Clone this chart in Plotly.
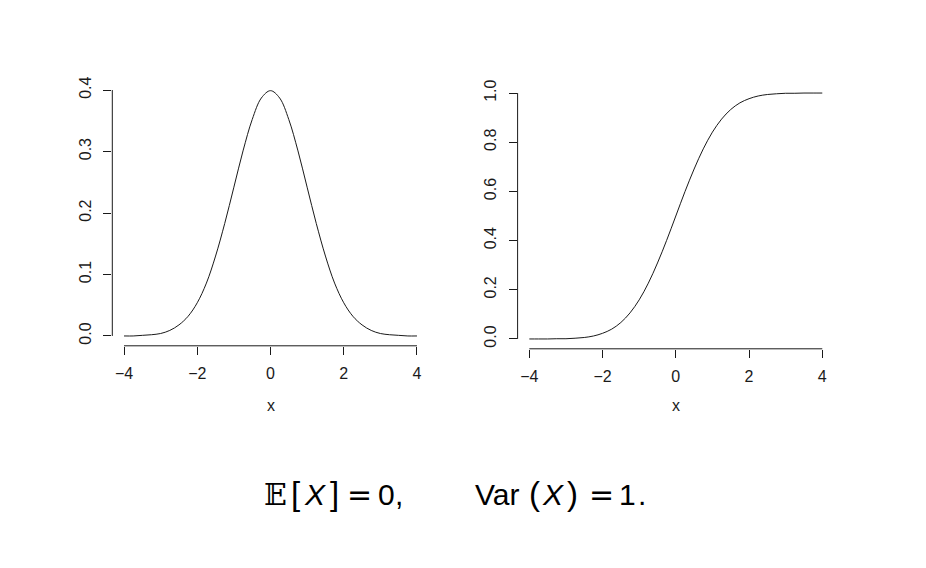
import plotly.graph_objects as go

# ---- data ----
x_vals = [-4, -3.75, -3.5, -3.25, -3, -2.75, -2.5, -2.25, -2, -1.75, -1.5, -1.25, -1,
          -0.75, -0.5, -0.25, 0, 0.25, 0.5, 0.75, 1, 1.25, 1.5, 1.75, 2, 2.25, 2.5,
          2.75, 3, 3.25, 3.5, 3.75, 4]
pdf_vals = [0.000, 0.000, 0.001, 0.002, 0.004, 0.009, 0.018, 0.032, 0.054, 0.086, 0.130,
            0.183, 0.242, 0.301, 0.352, 0.387, 0.399, 0.387, 0.352, 0.301, 0.242, 0.183,
            0.130, 0.086, 0.054, 0.032, 0.018, 0.009, 0.004, 0.002, 0.001, 0.000, 0.000]
cdf_vals = [0.000, 0.000, 0.000, 0.001, 0.001, 0.003, 0.006, 0.012, 0.023, 0.040, 0.067,
            0.106, 0.159, 0.227, 0.309, 0.401, 0.500, 0.599, 0.691, 0.773, 0.841, 0.894,
            0.933, 0.960, 0.977, 0.988, 0.994, 0.997, 0.999, 0.999, 1.000, 1.000, 1.000]
x_ticks = [-4, -2, 0, 2, 4]
pdf_ticks = [0.0, 0.1, 0.2, 0.3, 0.4]
cdf_ticks = [0.0, 0.2, 0.4, 0.6, 0.8, 1.0]
x_title = "x"
# caption tokens: (text, left edge px, kind)
caption_left = [("𝔼", 262, "bb"), ("[", 289, "br"), ("X", 302, "it"), ("]", 328, "br"),
                ("=", 345, "eq"), ("0", 376, "n"), (",", 393, "n")]
caption_right = [("Var", 473, "n"), ("(", 527, "br"), ("X", 540, "it"), (")", 565, "br"),
                 ("=", 587, "eq"), ("1", 617, "n"), (".", 636, "n")]

W, H = 926, 568
FONT = "Liberation Sans, Arial, sans-serif"
INK = "#1a1a1a"
TS = 16

fig = go.Figure()
fig.add_trace(go.Scatter(x=x_vals, y=pdf_vals, mode="lines", line=dict(color=INK, width=1, shape="spline", smoothing=1.0),
                         xaxis="x", yaxis="y", showlegend=False, hoverinfo="skip"))
fig.add_trace(go.Scatter(x=x_vals, y=cdf_vals, mode="lines", line=dict(color=INK, width=1, shape="spline", smoothing=1.0),
                         xaxis="x2", yaxis="y2", showlegend=False, hoverinfo="skip"))

def xa(domain, anchor):
    return dict(domain=domain, anchor=anchor, range=[-4.32, 4.32], tickmode="array",
                tickvals=x_ticks, ticktext=["\u22124", "\u22122", "0", "2", "4"],
                ticks="outside", ticklen=8, tickwidth=1, tickcolor=INK,
                showgrid=False, zeroline=False, showline=False, ticklabelstandoff=5,
                automargin=False, tickfont=dict(family=FONT, size=TS, color=INK))

def ya(domain, anchor, rng, tv):
    return dict(domain=domain, anchor=anchor, range=rng, tickmode="array",
                tickvals=tv, ticktext=[f"{v:.1f}" for v in tv], tickangle=-90,
                ticks="outside", ticklen=8, tickwidth=1, tickcolor=INK,
                showgrid=False, zeroline=False, showline=False, ticklabelstandoff=6,
                automargin=False, tickfont=dict(family=FONT, size=TS, color=INK))

fig.update_layout(
    width=W, height=H, margin=dict(l=0, r=0, t=0, b=0),
    paper_bgcolor="white", plot_bgcolor="white",
    xaxis=xa([112.3 / W, 428.7 / W], "y"),
    yaxis=ya([1 - 345.8 / H, 1 - 80.2 / H], "x", [-0.016, 0.416], pdf_ticks),
    xaxis2=xa([517.6 / W, 834.0 / W], "y2"),
    yaxis2=ya([1 - 348.8 / H, 1 - 83.2 / H], "x2", [-0.04, 1.04], cdf_ticks),
)

# R-style detached axis lines spanning the tick range
for xr, yr, tv in [("x", "y", pdf_ticks), ("x2", "y2", cdf_ticks)]:
    fig.add_shape(type="line", xref=xr, yref=yr + " domain", x0=x_ticks[0], x1=x_ticks[-1], y0=0, y1=0,
                  line=dict(color=INK, width=1))
    fig.add_shape(type="line", xref=xr + " domain", yref=yr, x0=0, x1=0, y0=tv[0], y1=tv[-1],
                  line=dict(color=INK, width=1))

# axis titles
for xr in ["x", "x2"]:
    fig.add_annotation(text=x_title, xref=xr, x=0, yref="paper", y=1 - 405 / H, yanchor="middle",
                       showarrow=False, font=dict(family=FONT, size=TS, color=INK))

# caption
for tokens in (caption_left, caption_right):
    for txt, px, kind in tokens:
        fam, size, yc = FONT, 30, 494
        if kind == "bb":
            fam = "DejaVu Serif, DejaVu Sans"
        elif kind == "br":
            size, yc = 33, 493
        elif kind == "eq":
            fam = "DejaVu Sans, Liberation Sans"
        fig.add_annotation(text=f"<i>{txt}</i>" if kind == "it" else txt, xref="paper", x=px / W, xanchor="left",
                           yref="paper", y=1 - yc / H, yanchor="middle", showarrow=False,
                           font=dict(family=fam, size=size, color="black"))

fig.write_html("out.html", config={"displayModeBar": False},
               post_script="document.body.style.margin='0';")
